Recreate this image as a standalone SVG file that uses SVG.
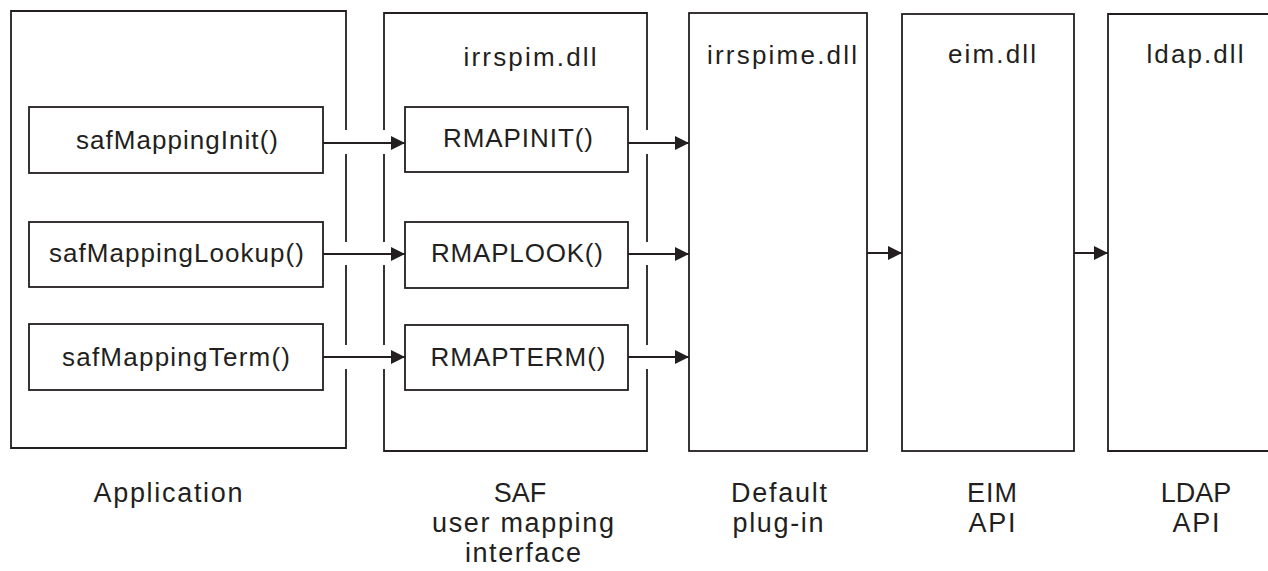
<svg xmlns="http://www.w3.org/2000/svg" width="1268" height="571" viewBox="0 0 1268 571">
<style>
.frame{fill:none;stroke:#231f20;stroke-width:1.8}
.box{fill:#fff;stroke:#231f20;stroke-width:1.8}
.con{fill:none;stroke:#231f20;stroke-width:1.8}
text{font-family:"Liberation Sans",Arial,sans-serif;fill:#231f20;text-anchor:middle}
.t{font-size:26px}
.b{font-size:27px}
</style>
<defs>
<marker id="ah" markerUnits="userSpaceOnUse" markerWidth="16" markerHeight="16" viewBox="0 0 16 16" refX="15" refY="8" orient="auto">
<path d="M1,1 L15,8 L1,15 Z" fill="#231f20"/>
</marker>
</defs>
<rect width="1268" height="571" fill="#fff"/>

<g id="application">
<path class="frame" d="M346,130 V11 H11 V448 H346 V369 M346,345 V265 M346,242 V154"/>
<text class="b" x="168" y="502" textLength="149" lengthAdjust="spacing">Application</text>
</g>
<g id="saf">
<path class="frame" d="M384,130 V13 H647 V130 M647,154 V242 M647,265 V345 M647,369 V451 H384 V369 M384,345 V265 M384,242 V154"/>
<text class="t" x="530" y="66" textLength="133" lengthAdjust="spacing">irrspim.dll</text>
<text class="b" x="520" y="502">SAF</text>
<text class="b" x="523" y="532" textLength="182" lengthAdjust="spacing">user mapping</text>
<text class="b" x="523" y="562" textLength="116" lengthAdjust="spacing">interface</text>
</g>
<g id="irrspime">
<rect class="frame" x="689" y="13" width="178" height="438"/>
<text class="t" x="782" y="64" textLength="150" lengthAdjust="spacing">irrspime.dll</text>
<text class="b" x="779" y="502" textLength="96" lengthAdjust="spacing">Default</text>
<text class="b" x="778" y="532" textLength="91" lengthAdjust="spacing">plug-in</text>
</g>
<g id="eim">
<rect class="frame" x="902" y="14" width="172" height="437"/>
<text class="t" x="992" y="63" textLength="88" lengthAdjust="spacing">eim.dll</text>
<text class="b" x="992" y="502" textLength="50" lengthAdjust="spacing">EIM</text>
<text class="b" x="992" y="532" textLength="47" lengthAdjust="spacing">API</text>
</g>
<g id="ldap">
<path class="frame" d="M1268,14 H1108 V451 H1268"/>
<text class="t" x="1195" y="63" textLength="97" lengthAdjust="spacing">ldap.dll</text>
<text class="b" x="1196" y="502">LDAP</text>
<text class="b" x="1196" y="532" textLength="47" lengthAdjust="spacing">API</text>
</g>

<g id="safMappingInit">
<rect class="box" x="29" y="107" width="294" height="66"/>
<text class="t" x="177" y="149" textLength="202" lengthAdjust="spacing">safMappingInit()</text>
</g>
<g id="safMappingLookup">
<rect class="box" x="29" y="222" width="294" height="65"/>
<text class="t" x="176.5" y="262" textLength="255" lengthAdjust="spacing">safMappingLookup()</text>
</g>
<g id="safMappingTerm">
<rect class="box" x="29" y="324" width="294" height="66"/>
<text class="t" x="176" y="366" textLength="228" lengthAdjust="spacing">safMappingTerm()</text>
</g>
<g id="RMAPINIT">
<rect class="box" x="405" y="107" width="223" height="65"/>
<text class="t" x="518" y="147" textLength="150" lengthAdjust="spacing">RMAPINIT()</text>
</g>
<g id="RMAPLOOK">
<rect class="box" x="405" y="222" width="223" height="66"/>
<text class="t" x="517" y="262" textLength="172" lengthAdjust="spacing">RMAPLOOK()</text>
</g>
<g id="RMAPTERM">
<rect class="box" x="405" y="325" width="223" height="65"/>
<text class="t" x="518" y="366" textLength="175" lengthAdjust="spacing">RMAPTERM()</text>
</g>

<g id="connectors">
<line class="con" x1="323" y1="143" x2="405" y2="143" marker-end="url(#ah)"/>
<line class="con" x1="323" y1="254" x2="405" y2="254" marker-end="url(#ah)"/>
<line class="con" x1="323" y1="357" x2="405" y2="357" marker-end="url(#ah)"/>
<line class="con" x1="628" y1="143" x2="689" y2="143" marker-end="url(#ah)"/>
<line class="con" x1="628" y1="254" x2="689" y2="254" marker-end="url(#ah)"/>
<line class="con" x1="628" y1="357" x2="689" y2="357" marker-end="url(#ah)"/>
<line class="con" x1="867" y1="253" x2="902" y2="253" marker-end="url(#ah)"/>
<line class="con" x1="1074" y1="253" x2="1108" y2="253" marker-end="url(#ah)"/>
</g>
</svg>
